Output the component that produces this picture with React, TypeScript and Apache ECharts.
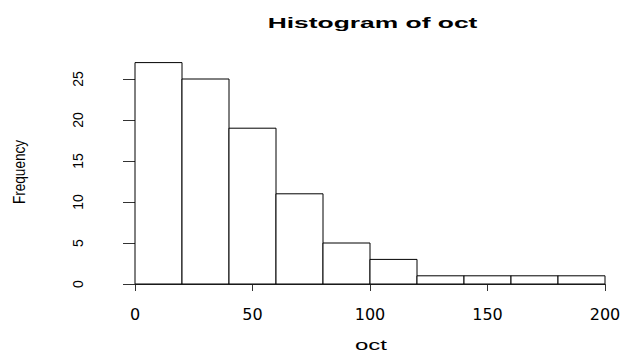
import React, { useEffect, useRef } from "react";
import * as echarts from "echarts";

const binStarts = [0, 20, 40, 60, 80, 100, 120, 140, 160, 180];
const binEnds = [20, 40, 60, 80, 100, 120, 140, 160, 180, 200];
const frequencies = [27, 25, 19, 11, 5, 3, 1, 1, 1, 1];
const titleText = "Histogram of oct";
const xName = "oct";
const yName = "Frequency";

export default function App() {
  const ref = useRef<HTMLDivElement>(null);
  useEffect(() => {
    const chart = echarts.init(ref.current!, null, { renderer: "svg" });
    const font = "Liberation Sans, Arial, sans-serif";
    const data = binStarts.map((s, i) => [s, binEnds[i], frequencies[i]]);
    chart.setOption({
      animation: false,
      backgroundColor: "#fff",
      grid: [
        { left: 135, right: 22, top: 62.6, bottom: 68 },
        { left: 135, right: 22, top: 79, bottom: 68 },
      ],
      xAxis: [
        {
          gridIndex: 0, type: "value", min: 0, max: 200, interval: 50,
          offset: 8.5,
          axisLine: { show: true, lineStyle: { color: "#333", width: 1 } },
          axisTick: { show: true, length: 7, lineStyle: { color: "#333" } },
          axisLabel: { show: true, margin: 14, fontSize: 16, color: "#000", fontFamily: "DejaVu Sans, sans-serif" },
          splitLine: { show: false },
        },
        {
          gridIndex: 1, type: "value", min: 0, max: 200, show: false,
        },
      ],
      yAxis: [
        {
          gridIndex: 0, type: "value", min: 0, max: 27, show: false,
        },
        {
          gridIndex: 1, type: "value", min: 0, max: 25, interval: 5,
          offset: 19,
          axisLine: { show: true, lineStyle: { color: "#333", width: 1 } },
          axisTick: { show: true, length: 12, lineStyle: { color: "#333" } },
          axisLabel: { show: true, rotate: 90, margin: 31, fontSize: 14, color: "#000", fontFamily: font },
          splitLine: { show: false },
        },
      ],
      series: [
        {
          type: "custom",
          xAxisIndex: 0,
          yAxisIndex: 0,
          data,
          encode: { x: [0, 1], y: 2 },
          renderItem: (params: any, api: any) => {
            const p0 = api.coord([api.value(0), 0]);
            const p1 = api.coord([api.value(1), api.value(2)]);
            return {
              type: "rect",
              shape: { x: p0[0], y: p1[1], width: p1[0] - p0[0], height: p0[1] - p1[1] },
              style: { fill: "#fff", stroke: "#000", lineWidth: 1 },
            };
          },
        },
      ],
      graphic: [
        {
          type: "text", x: 372.5, y: 23, scaleX: 1.76,
          style: { text: titleText, font: `bold 15px ${font}`, fill: "#000", textAlign: "center", textVerticalAlign: "middle" },
        },
        {
          type: "text", x: 371, y: 345, scaleX: 1.6,
          style: { text: xName, font: `15px ${font}`, fill: "#000", textAlign: "center", textVerticalAlign: "middle" },
        },
        {
          type: "text", x: 20, y: 172, rotation: Math.PI / 2, scaleX: 0.85,
          style: { text: yName, font: `16px ${font}`, fill: "#000", textAlign: "center", textVerticalAlign: "middle" },
        },
      ],
    });
    return () => chart.dispose();
  }, []);
  return <div ref={ref} style={{ width: 627, height: 352, position: "absolute", left: 0, top: 0 }} />;
}
